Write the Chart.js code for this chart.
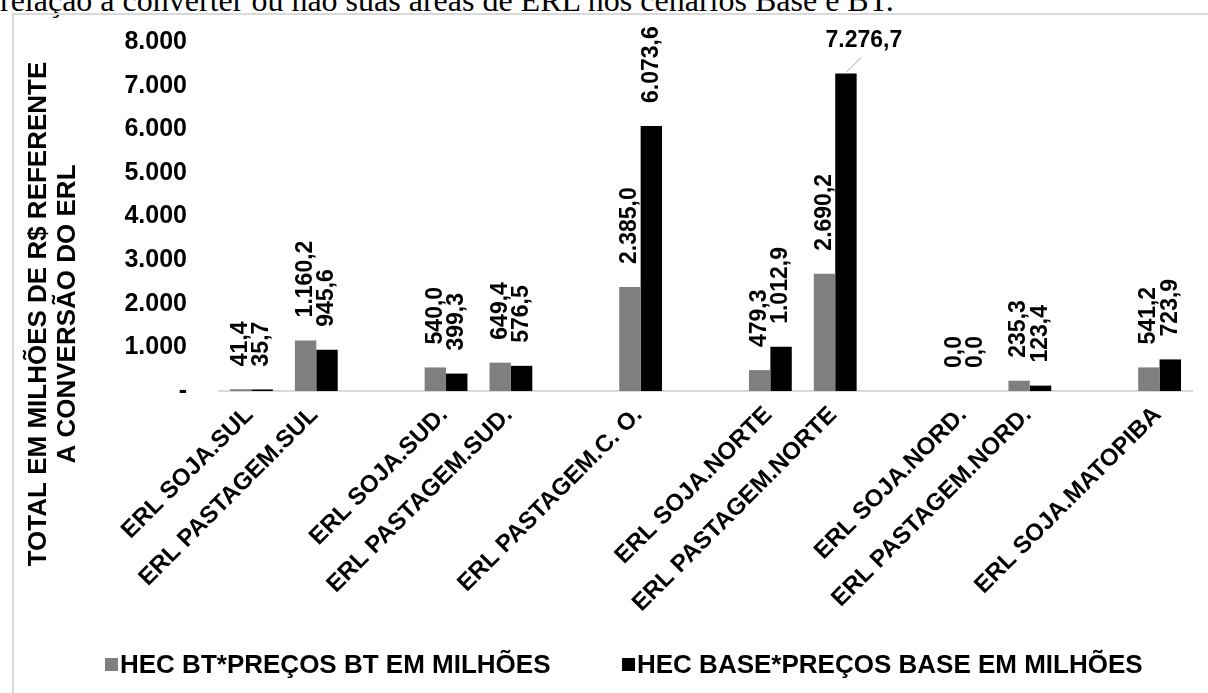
<!DOCTYPE html>
<html>
<head>
<meta charset="utf-8">
<script src="https://cdn.jsdelivr.net/npm/chart.js@4.4.1/dist/chart.umd.min.js"></script>
<style>
  html, body { margin: 0; padding: 0; background: #fff; }
  body { width: 1208px; height: 693px; position: relative; overflow: hidden; }
  #caption { position: absolute; left: 0; top: -18px; font: 32px "Liberation Serif", "Times New Roman", serif; color: #000; white-space: nowrap; }
  #frame { position: absolute; left: 12px; top: 13px; width: 1300px; height: 800px; border-left: 2px solid #d9d9d9; border-top: 2px solid #d9d9d9; }
  #chart { position: absolute; left: 0; top: 0; }
  .leg { position: absolute; top: 649px; font: bold 26px "Liberation Sans", Arial, sans-serif; color: #000; white-space: nowrap; display: flex; align-items: center; }
  .leg i { display: inline-block; width: 13px; height: 13px; margin-right: 2px; }
</style>
</head>
<body>
<div id="caption">relação a converter ou não suas áreas de ERL nos cenários Base e BT.</div>
<div id="frame"></div>
<canvas id="chart" width="1208" height="693"></canvas>
<script>
// categorias (as vazias são espaços entre regiões)
const categories = [
  'ERL SOJA.SUL', 'ERL PASTAGEM.SUL', '',
  'ERL SOJA.SUD.', 'ERL PASTAGEM.SUD.', '',
  'ERL PASTAGEM.C. O.', '',
  'ERL SOJA.NORTE', 'ERL PASTAGEM.NORTE', '',
  'ERL SOJA.NORD.', 'ERL PASTAGEM.NORD.', '',
  'ERL SOJA.MATOPIBA'
]
const btValues = [41.4, 1160.2, null, 540.0, 649.4, null, 2385.0, null, 479.3, 2690.2, null, 0.0, 235.3, null, 541.2]
const baseValues = [35.7, 945.6, null, 399.3, 576.5, null, 6073.6, null, 1012.9, 7276.7, null, 0.0, 123.4, null, 723.9]
const seriesNames = ['HEC BT*PREÇOS BT EM MILHÕES', 'HEC BASE*PREÇOS BASE EM MILHÕES']
const seriesColors = ['#7f7f7f', '#000000']
const yTickLabels = ['-', '1.000', '2.000', '3.000', '4.000', '5.000', '6.000', '7.000', '8.000']
const yTitle = ['TOTAL EM MILHÕES DE R$ REFERENTE', 'A CONVERSÃO DO ERL']

const FONT = '"Liberation Sans", Arial, sans-serif'

function fmt(v) {
  const parts = v.toFixed(1).split('.')
  const int = parts[0].replace(/\B(?=(\d{3})+(?!\d))/g, '.')
  return int + ',' + parts[1]
}

const valueLabels = {
  id: 'valueLabels',
  afterDatasetsDraw(chart) {
    const ctx = chart.ctx
    ctx.save()
    ctx.font = 'bold 23px ' + FONT
    ctx.fillStyle = '#000'
    chart.data.datasets.forEach((ds, di) => {
      chart.getDatasetMeta(di).data.forEach((bar, i) => {
        const v = ds.data[i]
        if (v === null || v === undefined) return
        const text = fmt(v)
        const w = ctx.measureText(text).width
        const start = bar.y - 23
        if (start - w < 0) {
          // sem espaço acima: rótulo horizontal com linha guia
          ctx.strokeStyle = '#a6a6a6'
          ctx.lineWidth = 1
          ctx.beginPath()
          ctx.moveTo(bar.x, bar.y - 1)
          ctx.lineTo(bar.x + 15, bar.y - 16)
          ctx.stroke()
          ctx.textAlign = 'center'
          ctx.textBaseline = 'middle'
          ctx.fillText(text, bar.x + 18, bar.y - 33)
        } else {
          ctx.save()
          ctx.translate(bar.x, start)
          ctx.rotate(-Math.PI / 2)
          ctx.textAlign = 'left'
          ctx.textBaseline = 'middle'
          ctx.fillText(text, 0, 0)
          ctx.restore()
        }
      })
    })
    ctx.restore()
  }
}

const axisTitle = {
  id: 'axisTitle',
  afterDraw(chart) {
    const ctx = chart.ctx
    const xs = [39, 68]
    ctx.save()
    ctx.font = 'bold 26px ' + FONT
    ctx.fillStyle = '#000'
    ctx.textAlign = 'center'
    ctx.textBaseline = 'middle'
    yTitle.forEach((line, i) => {
      ctx.save()
      ctx.translate(xs[i], 314)
      ctx.rotate(-Math.PI / 2)
      ctx.fillText(line, 0, 0)
      ctx.restore()
    })
    ctx.restore()
  }
}

new Chart(document.getElementById('chart'), {
  type: 'bar',
  data: {
    labels: categories,
    datasets: [
      { label: seriesNames[0], data: btValues, backgroundColor: seriesColors[0] },
      { label: seriesNames[1], data: baseValues, backgroundColor: seriesColors[1] }
    ]
  },
  options: {
    responsive: false,
    animation: false,
    devicePixelRatio: 1,
    datasets: { bar: { categoryPercentage: 0.66, barPercentage: 1.0 } },
    layout: { padding: { top: 42, right: 16, bottom: 0, left: 0 } },
    plugins: {
      legend: { display: false },
      tooltip: { enabled: false }
    },
    scales: {
      x: {
        grid: { display: false, drawTicks: false },
        border: { color: '#d9d9d9', width: 2 },
        ticks: {
          autoSkip: false,
          minRotation: 45,
          maxRotation: 45,
          padding: 10,
          labelOffset: -2,
          color: '#000',
          font: { family: FONT, size: 24, weight: 'bold' }
        },
        afterFit(scale) { scale.height = 302 }
      },
      y: {
        min: 0,
        max: 8000,
        grid: { display: false, drawTicks: false },
        border: { display: false },
        ticks: {
          stepSize: 1000,
          padding: 32,
          color: '#000',
          font: { family: FONT, size: 25, weight: 'bold' },
          callback: (v, i) => yTickLabels[i]
        },
        afterFit(scale) {
          scale.width = 219
          scale.paddingTop = 0
          scale.paddingBottom = 0
        }
      }
    }
  },
  plugins: [valueLabels, axisTitle]
})

// legenda em HTML
const legendLefts = [105, 622]
seriesNames.forEach((name, i) => {
  const item = document.createElement('div')
  item.className = 'leg'
  item.style.left = legendLefts[i] + 'px'
  const box = document.createElement('i')
  box.style.background = seriesColors[i]
  item.appendChild(box)
  item.appendChild(document.createTextNode(name))
  document.body.appendChild(item)
})
</script>
</body>
</html>
